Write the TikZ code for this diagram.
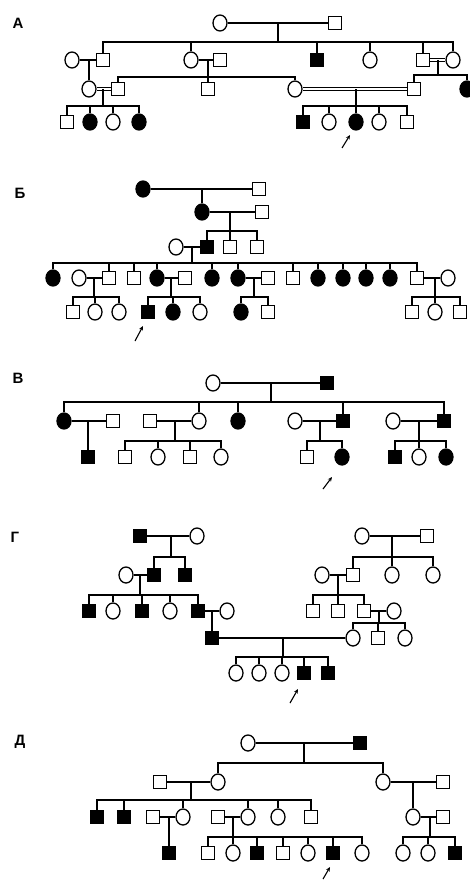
\documentclass[tikz,border=0pt]{standalone}
\usepackage{fontspec}
\usepackage{tikz}
\usetikzlibrary{shapes.geometric,arrows.meta,calc}
\newfontfamily\panelfont{Liberation Sans}

\tikzset{
  male/.style={draw, rectangle, minimum size=13pt, inner sep=0pt, fill=white},
  female/.style={draw, ellipse, minimum width=14pt, minimum height=16pt, inner sep=0pt, fill=white},
  sick/.style={fill=black},
  kin/.style={double, double distance=2pt, line width=1pt},
  pointer/.style={-{Stealth[length=4.5pt,width=4pt]}, line width=1.1pt},
  panel/.style={font=\panelfont\bfseries\fontsize{15}{15}\selectfont}
}

\begin{document}
\begin{tikzpicture}[x=1pt,y=-1pt,line width=1.3pt]
    \useasboundingbox (0,0) rectangle (469,880);

    % А
    \node[panel] (lA) at (18,23) {А};
    \node[female] (a1) at (220,23) {};
    \node[male] (a2) at (335,23) {};
    \node[female] (a3) at (72,60) {};
    \node[male] (a4) at (103,60) {};
    \node[female] (a5) at (191,60) {};
    \node[male] (a6) at (220,60) {};
    \node[male,sick] (a7) at (317,60) {};
    \node[female] (a8) at (370,60) {};
    \node[male] (a9) at (423,60) {};
    \node[female] (a10) at (453,60) {};
    \node[female] (a11) at (89,89) {};
    \node[male] (a12) at (118,89) {};
    \node[male] (a13) at (208,89) {};
    \node[female] (a14) at (295,89) {};
    \node[male] (a15) at (414,89) {};
    \node[female,sick] (a16) at (467,89) {};
    \node[male] (a17) at (67,122) {};
    \node[female,sick] (a18) at (90,122) {};
    \node[female] (a19) at (113,122) {};
    \node[female,sick] (a20) at (139,122) {};
    \node[male,sick] (a21) at (303,122) {};
    \node[female] (a22) at (329,122) {};
    \node[female,sick] (a23) at (356,122) {};
    \node[female] (a24) at (379,122) {};
    \node[male] (a25) at (407,122) {};
    \coordinate (sA1) at (278,42);
    \coordinate (sA2) at (208,77);
    \coordinate (sA3) at (438,75);
    \coordinate (sA4) at (103,106);
    \coordinate (sA5) at (356,106);
    \coordinate (pA1) at (342,148);
    \coordinate (pA2) at (350,135);

    \draw (a1) -- (a2);
    \draw (sA1) -- (sA1 |- a1);
    \draw (a4.north) |- (sA1);
    \draw (a5.north) |- (sA1);
    \draw (a7.north) |- (sA1);
    \draw (a8.north) |- (sA1);
    \draw (a9.north) |- (sA1);
    \draw (a10.north) |- (sA1);
    \draw (a3) -- (a4);
    \draw (a5) -- (a6);
    \draw[kin] (a9) -- (a10);
    \draw (a11) -- (a11 |- a3);
    \draw (sA2) -- (sA2 |- a5);
    \draw (a12.north) |- (sA2);
    \draw (a13.north) |- (sA2);
    \draw (a14.north) |- (sA2);
    \draw (sA3) -- (sA3 |- a9);
    \draw (a15.north) |- (sA3);
    \draw (a16.north) |- (sA3);
    \draw[kin] (a11) -- (a12);
    \draw[kin] (a14) -- (a15);
    \draw (sA4) -- (sA4 |- a11);
    \draw (a17.north) |- (sA4);
    \draw (a18.north) |- (sA4);
    \draw (a19.north) |- (sA4);
    \draw (a20.north) |- (sA4);
    \draw (sA5) -- (sA5 |- a14);
    \draw (a21.north) |- (sA5);
    \draw (a22.north) |- (sA5);
    \draw (a23.north) |- (sA5);
    \draw (a24.north) |- (sA5);
    \draw (a25.north) |- (sA5);
    \draw[pointer] (pA1) -- (pA2);

    % Б
    \node[panel] (lB) at (20,193) {Б};
    \node[female,sick] (b1) at (143,189) {};
    \node[male] (b2) at (259,189) {};
    \node[female,sick] (b3) at (202,212) {};
    \node[male] (b4) at (262,212) {};
    \node[female] (b5) at (176,247) {};
    \node[male,sick] (b6) at (207,247) {};
    \node[male] (b7) at (230,247) {};
    \node[male] (b8) at (257,247) {};
    \node[female,sick] (b9) at (53,278) {};
    \node[female] (b10) at (79,278) {};
    \node[male] (b11) at (109,278) {};
    \node[male] (b12) at (134,278) {};
    \node[female,sick] (b13) at (157,278) {};
    \node[male] (b14) at (185,278) {};
    \node[female,sick] (b15) at (212,278) {};
    \node[female,sick] (b16) at (238,278) {};
    \node[male] (b17) at (268,278) {};
    \node[male] (b18) at (293,278) {};
    \node[female,sick] (b19) at (318,278) {};
    \node[female,sick] (b20) at (343,278) {};
    \node[female,sick] (b21) at (366,278) {};
    \node[female,sick] (b22) at (390,278) {};
    \node[male] (b23) at (417,278) {};
    \node[female] (b24) at (448,278) {};
    \node[male] (b25) at (73,312) {};
    \node[female] (b26) at (95,312) {};
    \node[female] (b27) at (119,312) {};
    \node[male,sick] (b28) at (148,312) {};
    \node[female,sick] (b29) at (173,312) {};
    \node[female] (b30) at (200,312) {};
    \node[female,sick] (b31) at (241,312) {};
    \node[male] (b32) at (268,312) {};
    \node[male] (b33) at (412,312) {};
    \node[female] (b34) at (435,312) {};
    \node[male] (b35) at (460,312) {};
    \coordinate (sB1) at (230,231);
    \coordinate (sB2) at (192,263);
    \coordinate (sB3) at (94,297);
    \coordinate (sB4) at (171,297);
    \coordinate (sB5) at (254,297);
    \coordinate (sB6) at (435,297);
    \coordinate (pB1) at (135,341);
    \coordinate (pB2) at (143,326);

    \draw (b1) -- (b2);
    \draw (b3) -- (b3 |- b1);
    \draw (b3) -- (b4);
    \draw (sB1) -- (sB1 |- b3);
    \draw (b6.north) |- (sB1);
    \draw (b7.north) |- (sB1);
    \draw (b8.north) |- (sB1);
    \draw (b5) -- (b6);
    \draw (sB2) -- (sB2 |- b5);
    \draw (b9.north) |- (sB2);
    \draw (b11.north) |- (sB2);
    \draw (b12.north) |- (sB2);
    \draw (b13.north) |- (sB2);
    \draw (b15.north) |- (sB2);
    \draw (b16.north) |- (sB2);
    \draw (b18.north) |- (sB2);
    \draw (b19.north) |- (sB2);
    \draw (b20.north) |- (sB2);
    \draw (b21.north) |- (sB2);
    \draw (b22.north) |- (sB2);
    \draw (b23.north) |- (sB2);
    \draw (b10) -- (b11);
    \draw (b13) -- (b14);
    \draw (b16) -- (b17);
    \draw (b23) -- (b24);
    \draw (sB3) -- (sB3 |- b10);
    \draw (b25.north) |- (sB3);
    \draw (b26.north) |- (sB3);
    \draw (b27.north) |- (sB3);
    \draw (sB4) -- (sB4 |- b13);
    \draw (b28.north) |- (sB4);
    \draw (b29.north) |- (sB4);
    \draw (b30.north) |- (sB4);
    \draw (sB5) -- (sB5 |- b16);
    \draw (b31.north) |- (sB5);
    \draw (b32.north) |- (sB5);
    \draw (sB6) -- (sB6 |- b23);
    \draw (b33.north) |- (sB6);
    \draw (b34.north) |- (sB6);
    \draw (b35.north) |- (sB6);
    \draw[pointer] (pB1) -- (pB2);

    % В
    \node[panel] (lV) at (18,378) {В};
    \node[female] (v1) at (213,383) {};
    \node[male,sick] (v2) at (327,383) {};
    \node[female,sick] (v3) at (64,421) {};
    \node[male] (v4) at (113,421) {};
    \node[male] (v5) at (150,421) {};
    \node[female] (v6) at (199,421) {};
    \node[female,sick] (v7) at (238,421) {};
    \node[female] (v8) at (295,421) {};
    \node[male,sick] (v9) at (343,421) {};
    \node[female] (v10) at (393,421) {};
    \node[male,sick] (v11) at (444,421) {};
    \node[male,sick] (v12) at (88,457) {};
    \node[male] (v13) at (125,457) {};
    \node[female] (v14) at (158,457) {};
    \node[male] (v15) at (190,457) {};
    \node[female] (v16) at (221,457) {};
    \node[male] (v17) at (307,457) {};
    \node[female,sick] (v18) at (342,457) {};
    \node[male,sick] (v19) at (395,457) {};
    \node[female] (v20) at (419,457) {};
    \node[female,sick] (v21) at (446,457) {};
    \coordinate (sV1) at (271,402);
    \coordinate (sV2) at (175,441);
    \coordinate (sV3) at (320,441);
    \coordinate (sV4) at (419,441);
    \coordinate (pV1) at (323,489);
    \coordinate (pV2) at (332,477);

    \draw (v1) -- (v2);
    \draw (sV1) -- (sV1 |- v1);
    \draw (v3.north) |- (sV1);
    \draw (v6.north) |- (sV1);
    \draw (v7.north) |- (sV1);
    \draw (v9.north) |- (sV1);
    \draw (v11.north) |- (sV1);
    \draw (v3) -- (v4);
    \draw (v5) -- (v6);
    \draw (v8) -- (v9);
    \draw (v10) -- (v11);
    \draw (v12) -- (v12 |- v3);
    \draw (sV2) -- (sV2 |- v5);
    \draw (v13.north) |- (sV2);
    \draw (v14.north) |- (sV2);
    \draw (v15.north) |- (sV2);
    \draw (v16.north) |- (sV2);
    \draw (sV3) -- (sV3 |- v8);
    \draw (v17.north) |- (sV3);
    \draw (v18.north) |- (sV3);
    \draw (sV4) -- (sV4 |- v10);
    \draw (v19.north) |- (sV4);
    \draw (v20.north) |- (sV4);
    \draw (v21.north) |- (sV4);
    \draw[pointer] (pV1) -- (pV2);

    % Г
    \node[panel] (lG) at (15,537) {Г};
    \node[male,sick] (g1) at (140,536) {};
    \node[female] (g2) at (197,536) {};
    \node[female] (g3) at (126,575) {};
    \node[male,sick] (g4) at (154,575) {};
    \node[male,sick] (g5) at (185,575) {};
    \node[male,sick] (g6) at (89,611) {};
    \node[female] (g7) at (113,611) {};
    \node[male,sick] (g8) at (142,611) {};
    \node[female] (g9) at (170,611) {};
    \node[male,sick] (g10) at (198,611) {};
    \node[female] (g11) at (227,611) {};
    \node[male,sick] (g12) at (212,638) {};
    \node[female] (g13) at (362,536) {};
    \node[male] (g14) at (427,536) {};
    \node[female] (g15) at (322,575) {};
    \node[male] (g16) at (353,575) {};
    \node[female] (g17) at (392,575) {};
    \node[female] (g18) at (433,575) {};
    \node[male] (g19) at (313,611) {};
    \node[male] (g20) at (338,611) {};
    \node[male] (g21) at (364,611) {};
    \node[female] (g22) at (394,611) {};
    \node[female] (g23) at (353,638) {};
    \node[male] (g24) at (378,638) {};
    \node[female] (g25) at (405,638) {};
    \node[female] (g26) at (236,673) {};
    \node[female] (g27) at (259,673) {};
    \node[female] (g28) at (282,673) {};
    \node[male,sick] (g29) at (304,673) {};
    \node[male,sick] (g30) at (328,673) {};
    \coordinate (sG1) at (171,557);
    \coordinate (sG2) at (140,595);
    \coordinate (sG3) at (392,557);
    \coordinate (sG4) at (338,595);
    \coordinate (sG5) at (379,623);
    \coordinate (sG6) at (283,657);
    \coordinate (pG1) at (290,703);
    \coordinate (pG2) at (298,689);

    \draw (g1) -- (g2);
    \draw (sG1) -- (sG1 |- g1);
    \draw (g4.north) |- (sG1);
    \draw (g5.north) |- (sG1);
    \draw (g3) -- (g4);
    \draw (sG2) -- (sG2 |- g3);
    \draw (g6.north) |- (sG2);
    \draw (g7.north) |- (sG2);
    \draw (g8.north) |- (sG2);
    \draw (g9.north) |- (sG2);
    \draw (g10.north) |- (sG2);
    \draw (g10) -- (g11);
    \draw (g12) -- (g12 |- g10);
    \draw (g13) -- (g14);
    \draw (sG3) -- (sG3 |- g13);
    \draw (g16.north) |- (sG3);
    \draw (g17.north) |- (sG3);
    \draw (g18.north) |- (sG3);
    \draw (g15) -- (g16);
    \draw (sG4) -- (sG4 |- g15);
    \draw (g19.north) |- (sG4);
    \draw (g20.north) |- (sG4);
    \draw (g21.north) |- (sG4);
    \draw (g21) -- (g22);
    \draw (sG5) -- (sG5 |- g21);
    \draw (g23.north) |- (sG5);
    \draw (g24.north) |- (sG5);
    \draw (g25.north) |- (sG5);
    \draw (g12) -- (g23);
    \draw (sG6) -- (sG6 |- g12);
    \draw (g26.north) |- (sG6);
    \draw (g27.north) |- (sG6);
    \draw (g28.north) |- (sG6);
    \draw (g29.north) |- (sG6);
    \draw (g30.north) |- (sG6);
    \draw[pointer] (pG1) -- (pG2);

    % Д
    \node[panel] (lD) at (20,742) {Д};
    \node[female] (d1) at (248,743) {};
    \node[male,sick] (d2) at (360,743) {};
    \node[male] (d3) at (160,782) {};
    \node[female] (d4) at (218,782) {};
    \node[female] (d5) at (383,782) {};
    \node[male] (d6) at (443,782) {};
    \node[male,sick] (d7) at (97,817) {};
    \node[male,sick] (d8) at (124,817) {};
    \node[male] (d9) at (153,817) {};
    \node[female] (d10) at (183,817) {};
    \node[male] (d11) at (218,817) {};
    \node[female] (d12) at (248,817) {};
    \node[female] (d13) at (278,817) {};
    \node[male] (d14) at (311,817) {};
    \node[female] (d15) at (413,817) {};
    \node[male] (d16) at (443,817) {};
    \node[male,sick] (d17) at (169,853) {};
    \node[male] (d18) at (208,853) {};
    \node[female] (d19) at (233,853) {};
    \node[male,sick] (d20) at (257,853) {};
    \node[male] (d21) at (283,853) {};
    \node[female] (d22) at (308,853) {};
    \node[male,sick] (d23) at (333,853) {};
    \node[female] (d24) at (362,853) {};
    \node[female] (d25) at (403,853) {};
    \node[female] (d26) at (428,853) {};
    \node[male,sick] (d27) at (455,853) {};
    \coordinate (sD1) at (304,763);
    \coordinate (sD2) at (191,800);
    \coordinate (sD3) at (233,837);
    \coordinate (sD4) at (430,837);
    \coordinate (pD1) at (323,879);
    \coordinate (pD2) at (330,867);

    \draw (d1) -- (d2);
    \draw (sD1) -- (sD1 |- d1);
    \draw (d4.north) |- (sD1);
    \draw (d5.north) |- (sD1);
    \draw (d3) -- (d4);
    \draw (d5) -- (d6);
    \draw (sD2) -- (sD2 |- d3);
    \draw (d7.north) |- (sD2);
    \draw (d8.north) |- (sD2);
    \draw (d10.north) |- (sD2);
    \draw (d12.north) |- (sD2);
    \draw (d13.north) |- (sD2);
    \draw (d14.north) |- (sD2);
    \draw (d9) -- (d10);
    \draw (d11) -- (d12);
    \draw (d15) -- (d15 |- d5);
    \draw (d15) -- (d16);
    \draw (d17) -- (d17 |- d9);
    \draw (sD3) -- (sD3 |- d11);
    \draw (d18.north) |- (sD3);
    \draw (d19.north) |- (sD3);
    \draw (d20.north) |- (sD3);
    \draw (d21.north) |- (sD3);
    \draw (d22.north) |- (sD3);
    \draw (d23.north) |- (sD3);
    \draw (d24.north) |- (sD3);
    \draw (sD4) -- (sD4 |- d15);
    \draw (d25.north) |- (sD4);
    \draw (d26.north) |- (sD4);
    \draw (d27.north) |- (sD4);
    \draw[pointer] (pD1) -- (pD2);
\end{tikzpicture}
\end{document}
